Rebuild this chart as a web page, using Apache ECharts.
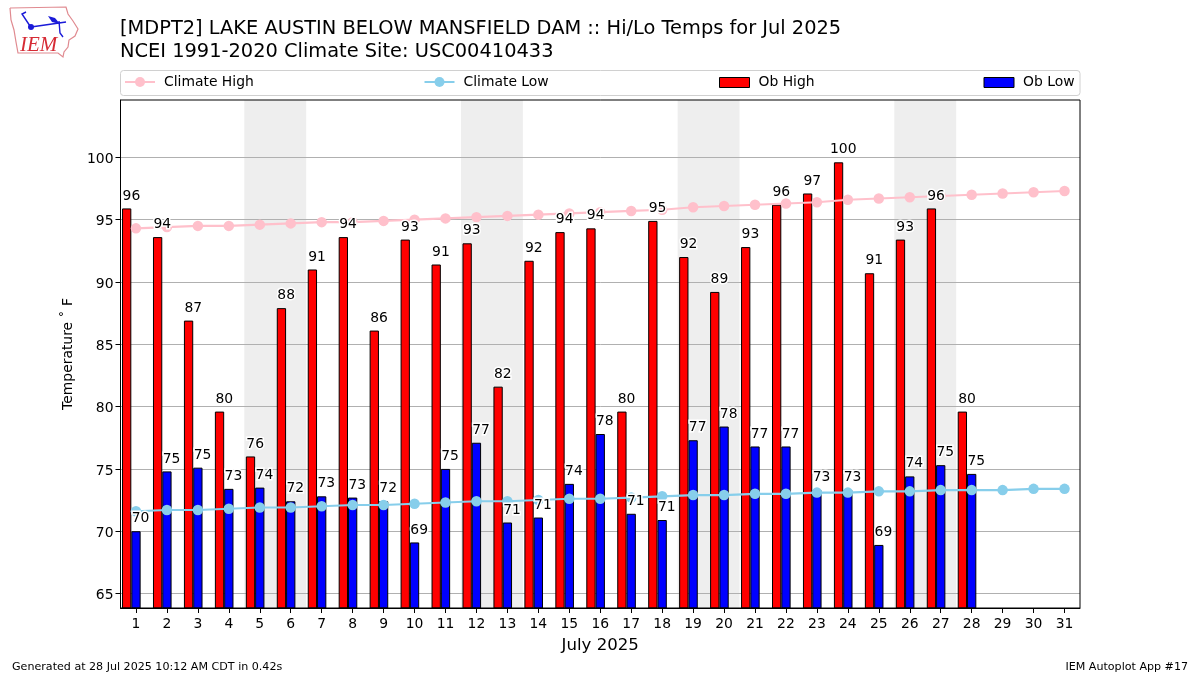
<!DOCTYPE html>
<html>
<head>
<meta charset="utf-8">
<title>Hi/Lo Temps</title>
<script src="https://cdn.jsdelivr.net/npm/echarts@6/dist/echarts.min.js"></script>
<style>
html,body{margin:0;padding:0;background:#fff;}
#main{width:1200px;height:675px;}
</style>
</head>
<body>
<div id="main"></div>
<script>
var days = ['1','2','3','4','5','6','7','8','9','10','11','12','13','14','15','16','17','18','19','20','21','22','23','24','25','26','27','28','29','30','31'];
var climateHigh = [94.3,94.4,94.5,94.5,94.6,94.7,94.8,94.8,94.9,95.0,95.1,95.2,95.3,95.4,95.5,95.6,95.7,95.8,96.0,96.1,96.2,96.3,96.4,96.6,96.7,96.8,96.9,97.0,97.1,97.2,97.3];
var climateLow = [71.6,71.7,71.7,71.8,71.9,71.9,72.0,72.1,72.1,72.2,72.3,72.4,72.4,72.5,72.6,72.6,72.7,72.8,72.9,72.9,73.0,73.0,73.1,73.1,73.2,73.2,73.3,73.3,73.3,73.4,73.4];
var obHigh = [95.9,93.6,86.9,79.6,76.0,87.9,91.0,93.6,86.1,93.4,91.4,93.1,81.6,91.7,94.0,94.3,79.6,94.9,92.0,89.2,92.8,96.2,97.1,99.6,90.7,93.4,95.9,79.6,null,null,null];
var obLow = [70.0,74.8,75.1,73.4,73.5,72.4,72.8,72.7,72.4,69.1,75.0,77.1,70.7,71.1,73.8,77.8,71.4,70.9,77.3,78.4,76.8,76.8,73.3,73.3,68.9,74.4,75.3,74.6,null,null,null];
// weekend spans, in day units on the hidden x axis
var weekends = [[4.5,6.5],[11.5,13.5],[18.5,20.5],[25.5,27.5]];
var yTicks = [65,70,75,80,85,90,95,100];

var font = 'DejaVu Sans';

function labelSeries(name, values, dx) {
    return {
        name: name,
        type: 'scatter',
        data: values,
        symbolSize: 0,
        silent: true,
        z: 6,
        itemStyle: {opacity: 1},
        label: {
            show: true,
            position: 'top',
            offset: [dx, -0.5],
            color: '#000',
            fontFamily: font,
            fontSize: 13.9,
            textBorderColor: '#fff',
            textBorderWidth: 3,
            formatter: function (p) { return Math.round(p.value); }
        }
    };
}

function lineLegend(name, left) {
    return {
        data: [name],
        left: left,
        top: 75,
        itemWidth: 30,
        itemHeight: 12.5,
        itemGap: 0,
        padding: 0,
        selectedMode: false,
        lineStyle: {width: 2},
        textStyle: {fontFamily: font, fontSize: 13.9, color: '#000', padding: [0, 0, 0, 4]}
    };
}

function barLegend(name, left) {
    return {
        data: [{name: name, icon: 'rect'}],
        left: left,
        top: 75.5,
        itemWidth: 30,
        itemHeight: 10,
        itemGap: 0,
        padding: 0,
        selectedMode: false,
        itemStyle: {borderWidth: 1, borderColor: '#000'},
        textStyle: {fontFamily: font, fontSize: 13.9, color: '#000', padding: [0, 0, 0, 4]}
    };
}

var myChart = echarts.init(document.getElementById('main'));

var option = {
    animation: false,
    backgroundColor: '#fff',
    textStyle: {fontFamily: font},
    grid: {left: 120.5, right: 120, top: 100, bottom: 67, show: true, borderColor: '#000', borderWidth: 1, z: 4, backgroundColor: 'transparent'},
    legend: [
        lineLegend('Climate High', 124),
        lineLegend('Climate Low', 423.5),
        barLegend('Ob High', 719),
        barLegend('Ob Low', 983.5)
    ],
    xAxis: [
        {
            type: 'category',
            data: days,
            name: 'July 2025',
            nameLocation: 'middle',
            nameGap: 29,
            nameTextStyle: {fontFamily: font, fontSize: 16.6, color: '#000'},
            axisLine: {lineStyle: {color: '#000', width: 1}},
            axisTick: {show: true, alignWithLabel: true, length: 5, lineStyle: {color: '#000', width: 1}},
            axisLabel: {interval: 0, color: '#000', fontFamily: font, fontSize: 13.9, margin: 9},
            splitLine: {show: false}
        },
        {type: 'value', min: 0.5, max: 31.5, show: false, splitLine: {show: false}}
    ],
    yAxis: {
        type: 'value',
        min: 63.84,
        max: 104.6,
        z: 1,
        name: 'Temperature \u02DA F',
        nameLocation: 'middle',
        nameGap: 45.5,
        nameTextStyle: {fontFamily: font, fontSize: 13.9, color: '#000'},
        axisLine: {show: true, lineStyle: {color: '#000', width: 1}},
        axisTick: {show: true, length: 5, lineStyle: {color: '#000', width: 1}, customValues: yTicks},
        axisLabel: {
            color: '#000',
            fontFamily: font,
            fontSize: 13.9,
            margin: 7,
            customValues: yTicks,
            formatter: '{v|{value}}',
            rich: {v: {fontFamily: font, fontSize: 13.9, color: '#000', padding: [4, 0, 0, 0]}}
        },
        splitLine: {show: true, lineStyle: {color: '#b0b0b0', width: 1}}
    },
    series: [
        {
            name: 'weekends',
            type: 'line',
            xAxisIndex: 1,
            data: [],
            z: 0,
            markArea: {
                silent: true,
                z: 0,
                itemStyle: {color: '#eeeeee'},
                data: weekends.map(function (w) { return [{xAxis: w[0]}, {xAxis: w[1]}]; })
            }
        },
        {
            name: 'Ob High',
            type: 'bar',
            data: obHigh,
            barWidth: 9.3,
            barGap: 0,
            z: 2,
            itemStyle: {color: '#ff0000', borderColor: '#000', borderWidth: 1}
        },
        {
            name: 'Ob Low',
            type: 'bar',
            data: obLow,
            barWidth: 9.3,
            barGap: 0,
            z: 2,
            itemStyle: {color: '#0000ff', borderColor: '#000', borderWidth: 1}
        },
        // empty third slot, keeps the low bar centred on the tick
        {
            name: 'spacer',
            type: 'bar',
            data: days.map(function () { return null; }),
            barWidth: 9.3,
            barGap: 0,
            z: 2
        },
        {
            name: 'Climate High',
            type: 'line',
            data: climateHigh,
            symbol: 'circle',
            symbolSize: 10.5,
            z: 3,
            lineStyle: {color: '#ffc0cb', width: 2.1},
            itemStyle: {color: '#ffc0cb'}
        },
        {
            name: 'Climate Low',
            type: 'line',
            data: climateLow,
            symbol: 'circle',
            symbolSize: 10.5,
            z: 3,
            lineStyle: {color: '#87ceeb', width: 2.1},
            itemStyle: {color: '#87ceeb'}
        },
        labelSeries('High labels', obHigh, -4.6),
        labelSeries('Low labels', obLow, 4.6)
    ],
    graphic: [
        {type: 'rect', z: -1, shape: {x: 120.5, y: 70.5, width: 959.5, height: 25, r: 3}, style: {fill: '#fff', stroke: '#d0d0d0', lineWidth: 1}},
        {type: 'text', left: 120, top: 19.5, style: {text: '[MDPT2] LAKE AUSTIN BELOW MANSFIELD DAM :: Hi/Lo Temps for Jul 2025', fontFamily: font, fontSize: 19.4, fill: '#000'}},
        {type: 'text', left: 120, top: 42, style: {text: 'NCEI 1991-2020 Climate Site: USC00410433', fontFamily: font, fontSize: 19.4, fill: '#000'}},
        {type: 'text', left: 12, top: 661.5, style: {text: 'Generated at 28 Jul 2025 10:12 AM CDT in 0.42s', fontFamily: font, fontSize: 11.1, fill: '#000'}},
        {type: 'text', right: 12, top: 661.5, style: {text: 'IEM Autoplot App #17', fontFamily: font, fontSize: 11.1, fill: '#000'}},
        // IEM logo
        {type: 'polyline', shape: {points: [[10,8],[66,7],[68,14],[73,21],[78,29],[75,36],[69,40],[68,47],[64,52],[63,57],[58,53],[18,53],[16,42],[14,30],[11,20],[10,8]]}, style: {fill: 'none', stroke: '#e08a90', lineWidth: 1.2}},
        {type: 'polyline', shape: {points: [[31,27],[66,22]]}, style: {stroke: '#1a1ad8', lineWidth: 1.6, fill: 'none'}},
        {type: 'polyline', shape: {points: [[26,12],[22,14],[30,26]]}, style: {stroke: '#1a1ad8', lineWidth: 1.4, fill: 'none'}},
        {type: 'polyline', shape: {points: [[59,21],[60,33],[63,37]]}, style: {stroke: '#1a1ad8', lineWidth: 1.4, fill: 'none'}},
        {type: 'circle', shape: {cx: 31, cy: 27, r: 3}, style: {fill: '#1a1ad8'}},
        {type: 'polygon', shape: {points: [[48,16],[55,18],[60,24],[52,22]]}, style: {fill: '#1a1ad8'}},
        {type: 'text', left: 20, top: 35, style: {text: 'IEM', fontFamily: 'Liberation Serif', fontStyle: 'italic', fontSize: 21, fill: '#d62b35'}}
    ]
};
myChart.setOption(option);
</script>
</body>
</html>
